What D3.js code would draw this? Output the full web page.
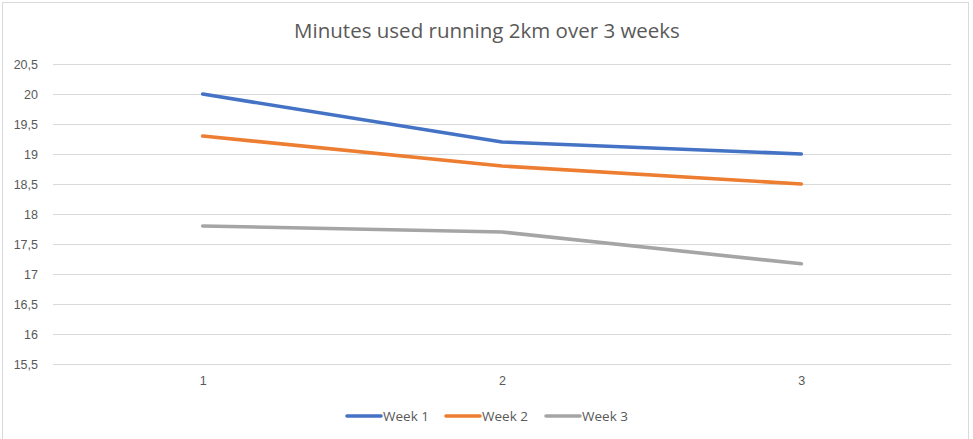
<!DOCTYPE html>
<html><head><meta charset="utf-8">
<script src="https://cdn.jsdelivr.net/npm/d3@7"></script>
<style>body{margin:0;background:#fff;}svg{display:block;font-family:"Open Sans","Noto Sans","Liberation Sans",sans-serif;}</style>
</head><body><svg id="c" width="973" height="439"></svg>
<script>
const categories = ["1","2","3"];
const seriesNames = ["Week 1","Week 2","Week 3"];
const week1 = [20, 19.2, 19.0];
const week2 = [19.3, 18.8, 18.5];
const week3 = [17.8, 17.7, 17.17];
const yTicks = [15.5,16,16.5,17,17.5,18,18.5,19,19.5,20,20.5];
const colors = ["#4472C4","#ED7D31","#A5A5A5"];
const title = "Minutes used running 2km over 3 weeks";

const series = [week1, week2, week3];
const svg = d3.select("#c");
const m = {l:53, r:951, t:64, b:364};

function fitWidth(sel, target) {
  const n = sel.node();
  const fs = parseFloat(n.style.fontSize);
  const w = n.getComputedTextLength();
  if (w > 0) sel.style("font-size", (fs * target / w).toFixed(2) + "px");
}

// chart border
svg.append("rect").attr("x",2.5).attr("y",2.5).attr("width",966).attr("height",440)
  .attr("fill","#fff").attr("stroke","#d9d9d9").attr("stroke-width",1);

const x = d3.scalePoint().domain(categories).range([m.l, m.r]).padding(0.5);
const y = d3.scaleLinear().domain([15.5, 20.5]).range([m.b, m.t]);
const fmt = v => String(v).replace(".", ",");

// gridlines
svg.append("g").selectAll("line").data(yTicks).join("line")
  .attr("x1", m.l).attr("x2", m.r)
  .attr("y1", d => Math.round(y(d)) + 0.5).attr("y2", d => Math.round(y(d)) + 0.5)
  .attr("stroke", "#d9d9d9").attr("stroke-width", 1.2);

// y axis labels
const yAxis = d3.axisLeft(y).tickValues(yTicks).tickFormat(fmt).tickSize(0).tickPadding(0);
const gy = svg.append("g").attr("transform", `translate(38,0)`).call(yAxis);
gy.select(".domain").remove();
gy.selectAll("text").attr("fill","#595959").style("font-size","12.5px").style("font-family","inherit");

// x axis labels
const xAxis = d3.axisBottom(x).tickSize(0).tickPadding(0);
const gx = svg.append("g").attr("transform", `translate(0,${m.b + 12})`).call(xAxis);
gx.select(".domain").remove();
gx.selectAll("text").attr("fill","#595959").style("font-size","12.5px").style("font-family","inherit");

// lines
const line = d3.line().x((d,i) => x(categories[i])).y(d => y(d));
svg.append("g").selectAll("path").data(series).join("path")
  .attr("d", d => line(d))
  .attr("fill","none").attr("stroke",(d,i)=>colors[i])
  .attr("stroke-width",3.6).attr("stroke-linecap","round").attr("stroke-linejoin","round");

// title
const t = svg.append("text").attr("x", 487).attr("y", 38).attr("text-anchor","middle")
  .attr("fill","#595959").style("font-size","20px").text(title);
fitWidth(t, 386);

// legend
const legX = [347, 446, 546];
const lg = svg.append("g").selectAll("g").data(seriesNames).join("g")
  .attr("transform",(d,i)=>`translate(${legX[i]},416)`);
lg.append("line").attr("x1",0).attr("x2",34).attr("y1",0).attr("y2",0)
  .attr("stroke",(d,i)=>colors[i]).attr("stroke-width",3.6).attr("stroke-linecap","round");
const lt = lg.append("text").attr("x",36).attr("y",4.8).attr("fill","#595959").style("font-size","13px").text(d=>d);
const first = d3.select(lt.nodes()[0]);
fitWidth(first, 46);
lt.style("font-size", first.style("font-size"));
</script></body></html>
